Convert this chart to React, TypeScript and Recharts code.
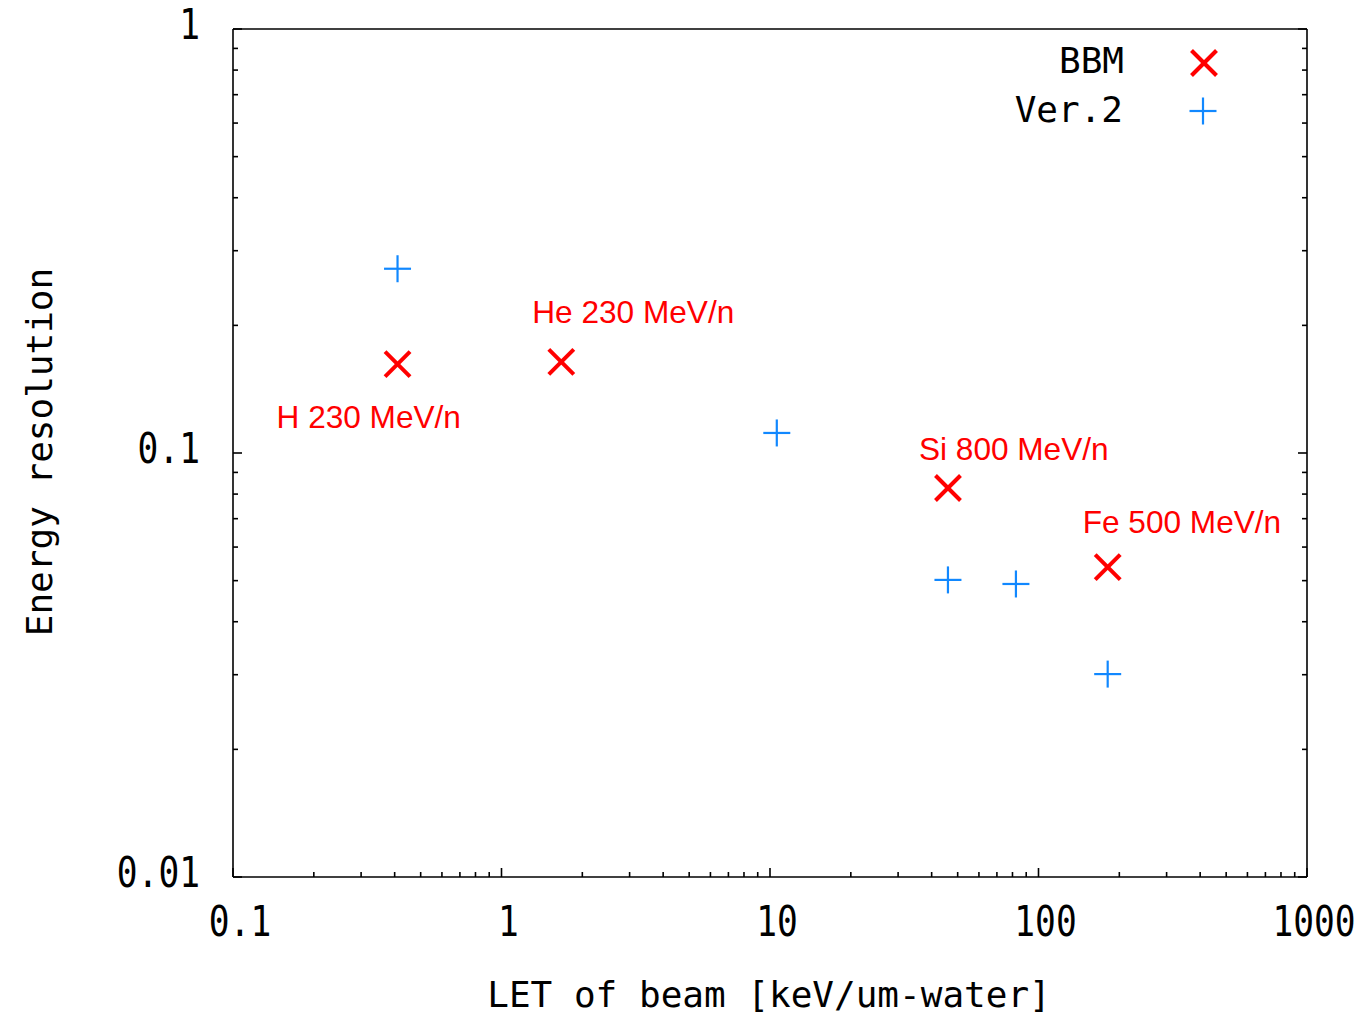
import React from "react";
import { ScatterChart, Scatter, XAxis, YAxis, Customized } from "recharts";

// LET of beam [keV/um-water] vs. energy resolution
const BBM_LET = [0.41, 1.67, 46, 181];
const BBM_RES = [0.162, 0.164, 0.0827, 0.0538];
const BBM_BEAMS = ["H 230 MeV/n", "He 230 MeV/n", "Si 800 MeV/n", "Fe 500 MeV/n"];

const VER2_LET = [0.41, 10.6, 46, 82.4, 181];
const VER2_RES = [0.272, 0.1115, 0.0502, 0.0491, 0.0301];

const X_TICKS = [0.1, 1, 10, 100, 1000];
const X_TICK_LABELS = ["0.1", "1", "10", "100", "1000"];
const Y_TICKS = [0.01, 0.1, 1];
const Y_TICK_LABELS = ["0.01", "0.1", "1"];

// beam name placement relative to its marker (dx to text start, dy to baseline)
const BEAM_LABEL_OFFSETS = [
  [-121, 64],
  [-29, -39],
  [-29, -28],
  [-25, -34],
];

const RED = "#ff0000";
const BLUE = "#1188ff";
const MONO = "'DejaVu Sans Mono', monospace";
const SANS = "'Liberation Sans', Arial, sans-serif";

// 2..9 between each pair of majors
const withMinors = (majors: number[]) => {
  const out: number[] = [...majors];
  for (let i = 0; i < majors.length - 1; i++) {
    for (let m = 2; m <= 9; m++) out.push(+(majors[i] * m).toPrecision(6));
  }
  return out;
};

const xTickValues = withMinors(X_TICKS);
const yTickValues = withMinors(Y_TICKS);

const bbmData = BBM_LET.map((x, i) => ({ x, y: BBM_RES[i], beam: BBM_BEAMS[i], idx: i }));
const ver2Data = VER2_LET.map((x, i) => ({ x, y: VER2_RES[i] }));

const MAJOR_LEN = 9;
const MINOR_LEN = 5;

function BottomTick(props: any) {
  const { x, y, payload } = props;
  const i = X_TICKS.indexOf(payload.value);
  const len = i >= 0 ? MAJOR_LEN : MINOR_LEN;
  return (
    <g>
      <line x1={x} x2={x} y1={y} y2={y - len} stroke="#000" strokeWidth={1.6} />
      {i >= 0 && (
        <text
          transform={`translate(${x + 7},${y + 59}) scale(0.96,1.18)`}
          textAnchor="middle"
          fontFamily={MONO}
          fontSize={36}
          fill="#000"
        >
          {X_TICK_LABELS[i]}
        </text>
      )}
    </g>
  );
}

function TopTick(props: any) {
  const { x, y, payload } = props;
  const len = X_TICKS.includes(payload.value) ? MAJOR_LEN : MINOR_LEN;
  return <line x1={x} x2={x} y1={y} y2={y + len} stroke="#000" strokeWidth={1.6} />;
}

function LeftTick(props: any) {
  const { x, y, payload } = props;
  const i = Y_TICKS.indexOf(payload.value);
  const len = i >= 0 ? MAJOR_LEN : MINOR_LEN;
  return (
    <g>
      <line x1={x} x2={x + len} y1={y} y2={y} stroke="#000" strokeWidth={1.6} />
      {i >= 0 && (
        <text
          transform={`translate(${x - 33},${y + 10}) scale(0.96,1.18)`}
          textAnchor="end"
          fontFamily={MONO}
          fontSize={36}
          fill="#000"
        >
          {Y_TICK_LABELS[i]}
        </text>
      )}
    </g>
  );
}

function RightTick(props: any) {
  const { x, y, payload } = props;
  const len = Y_TICKS.includes(payload.value) ? MAJOR_LEN : MINOR_LEN;
  return <line x1={x} x2={x - len} y1={y} y2={y} stroke="#000" strokeWidth={1.6} />;
}

function Cross({ cx, cy }: { cx: number; cy: number }) {
  const r = 12.5;
  return (
    <g stroke={RED} strokeWidth={4} strokeLinecap="butt">
      <line x1={cx - r} y1={cy - r} x2={cx + r} y2={cy + r} />
      <line x1={cx - r} y1={cy + r} x2={cx + r} y2={cy - r} />
    </g>
  );
}

function Plus({ cx, cy }: { cx: number; cy: number }) {
  const r = 13.5;
  return (
    <g stroke={BLUE} strokeWidth={2.2}>
      <line x1={cx - r} y1={cy} x2={cx + r} y2={cy} />
      <line x1={cx} y1={cy - r} x2={cx} y2={cy + r} />
    </g>
  );
}

function BbmShape(props: any) {
  const { cx, cy, payload } = props;
  const [dx, dy] = BEAM_LABEL_OFFSETS[payload.idx];
  return (
    <g>
      <Cross cx={cx} cy={cy} />
      <text x={cx + dx} y={cy + dy} fill={RED} fontFamily={SANS} fontSize={31.6}>
        {payload.beam}
      </text>
    </g>
  );
}

function Ver2Shape(props: any) {
  return <Plus cx={props.cx} cy={props.cy} />;
}

function Decorations() {
  return (
    <g>
      <text x={769} y={1007} textAnchor="middle" fontFamily={MONO} fontSize={36} fill="#000">
        LET of beam [keV/um-water]
      </text>
      <text
        transform="translate(52,452) rotate(-90)"
        textAnchor="middle"
        fontFamily={MONO}
        fontSize={36}
        fill="#000"
      >
        Energy resolution
      </text>
      {/* key */}
      <text x={1124} y={73} textAnchor="end" fontFamily={MONO} fontSize={36} fill="#000">
        BBM
      </text>
      <Cross cx={1204} cy={63} />
      <text x={1123} y={122} textAnchor="end" fontFamily={MONO} fontSize={36} fill="#000">
        Ver.2
      </text>
      <Plus cx={1203} cy={111} />
    </g>
  );
}

export default function App() {
  return (
    <div style={{ position: "absolute", left: 0, top: 0, background: "#fff" }}>
      <ScatterChart
        width={1361}
        height={1017}
        margin={{ top: 28, right: 53, bottom: 80, left: 133 }}
      >
        <XAxis
          xAxisId="main"
          dataKey="x"
          type="number"
          scale="log"
          domain={[0.1, 1000]}
          allowDataOverflow
          ticks={xTickValues}
          interval={0}
          height={60}
          tickSize={0}
          tickMargin={0}
          tickLine={false}
          tick={<BottomTick />}
          axisLine={{ stroke: "#000", strokeWidth: 1.6 }}
        />
        <XAxis
          xAxisId="top"
          orientation="top"
          type="number"
          scale="log"
          domain={[0.1, 1000]}
          allowDataOverflow
          ticks={xTickValues}
          interval={0}
          height={1}
          tickSize={0}
          tickMargin={0}
          tickLine={false}
          tick={<TopTick />}
          axisLine={{ stroke: "#000", strokeWidth: 1.6 }}
        />
        <YAxis
          yAxisId="main"
          dataKey="y"
          type="number"
          scale="log"
          domain={[0.01, 1]}
          allowDataOverflow
          ticks={yTickValues}
          interval={0}
          width={100}
          tickSize={0}
          tickMargin={0}
          tickLine={false}
          tick={<LeftTick />}
          axisLine={{ stroke: "#000", strokeWidth: 1.6 }}
        />
        <YAxis
          yAxisId="right"
          orientation="right"
          type="number"
          scale="log"
          domain={[0.01, 1]}
          allowDataOverflow
          ticks={yTickValues}
          interval={0}
          width={1}
          tickSize={0}
          tickMargin={0}
          tickLine={false}
          tick={<RightTick />}
          axisLine={{ stroke: "#000", strokeWidth: 1.6 }}
        />
        <Scatter
          name="BBM"
          data={bbmData}
          xAxisId="main"
          yAxisId="main"
          shape={<BbmShape />}
          isAnimationActive={false}
        />
        <Scatter
          name="Ver.2"
          data={ver2Data}
          xAxisId="main"
          yAxisId="main"
          shape={<Ver2Shape />}
          isAnimationActive={false}
        />
        <Customized component={<Decorations />} />
      </ScatterChart>
    </div>
  );
}
